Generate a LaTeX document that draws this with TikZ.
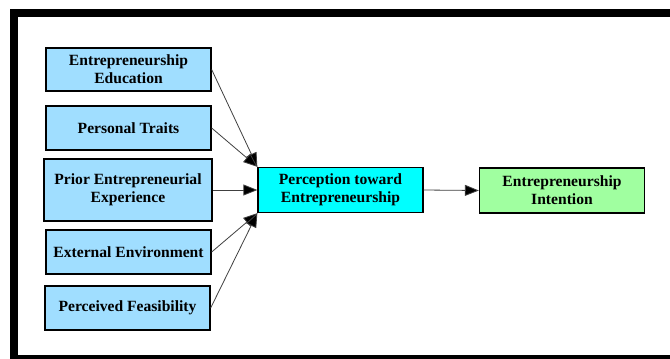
\documentclass[tikz,border=0pt]{standalone}
\usepackage{fontspec}
\setmainfont{Liberation Serif}
\usetikzlibrary{arrows.meta}

\definecolor{factorblue}{HTML}{A0DEFF}
\definecolor{medcyan}{HTML}{00FFFF}
\definecolor{outgreen}{HTML}{A0FFA0}

\tikzset{
  box/.style={draw=black,line width=1.3pt,rectangle,align=center,
    minimum width=165pt,minimum height=44pt,inner sep=2pt,
    font=\fontsize{15.6}{18}\selectfont\bfseries},
  factor/.style={box,fill=factorblue},
  mediator/.style={box,fill=medcyan},
  outcome/.style={box,fill=outgreen},
  link/.style={draw=black!75,line width=0.8pt,
    -{Triangle[length=14pt,width=11pt,fill=black]}}
}

\begin{document}
\begin{tikzpicture}[x=1pt,y=-1pt,line join=miter]
  \useasboundingbox (0,0) rectangle (670,359);
  \clip (0,0) rectangle (670,359);
  \fill[white] (0,0) rectangle (670,359);

  % Frame
  \draw[line width=8pt] (14,13) rectangle (675,359);

  % Factors
  \node[factor,minimum height=43pt] (edu) at (128.5,69.5) {Entrepreneurship\\Education};
  \node[factor] (traits) at (128.5,128) {Personal Traits};
  \node[factor,minimum width=168pt,minimum height=62pt,line width=2pt] (prior) at (128,190) {Prior Entrepreneurial\\Experience};
  \node[factor] (env) at (128.5,252) {External Environment};
  \node[factor] (feas) at (127.5,308) {Perceived Feasibility};

  % Mediator and outcome
  \node[mediator,minimum height=45pt] (percep) at (340.5,190) {Perception toward\\Entrepreneurship};
  \node[outcome,minimum height=45pt] (intent) at (562,190.5) {Entrepreneurship\\Intention};

  % Links
  \draw[link] (edu.east) -- (percep.north west);
  \draw[link] (traits.east) -- (percep.north west);
  \draw[link] (prior.east) -- (percep.west);
  \draw[link] (env.east) -- (percep.south west);
  \draw[link] (feas.east) -- (percep.south west);
  \draw[link] (percep.east) -- (intent.west);
\end{tikzpicture}
\end{document}
